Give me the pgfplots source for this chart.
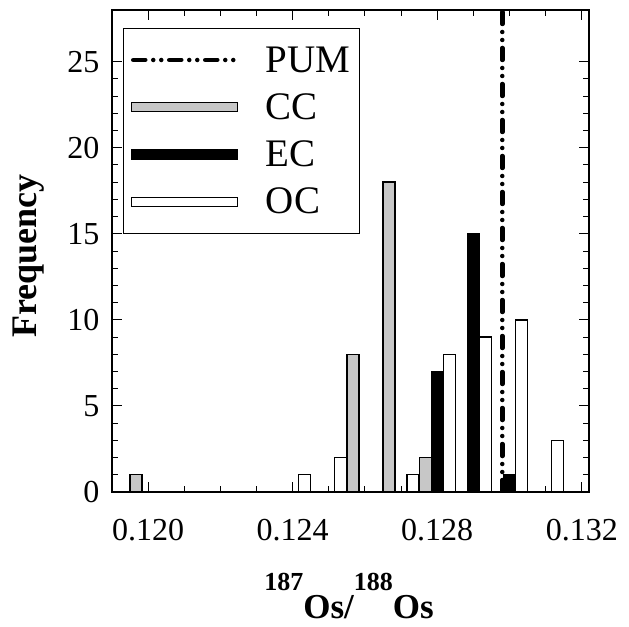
\documentclass[border=0pt]{standalone}
\usepackage{pgfplots}
\pgfplotsset{compat=1.18}
\usepackage{fontspec}
\setmainfont{Liberation Serif}
\definecolor{ccgray}{gray}{0.78}
\begin{document}
\begin{tikzpicture}
\begin{axis}[
  scale only axis, width=477bp, height=482bp,
  xmin=0.119, xmax=0.1322, ymin=0, ymax=28,
  scaled x ticks=false,
  xtick={0.120,0.124,0.128,0.132},
  xticklabels={0.120,0.124,0.128,0.132},
  minor x tick num=3,
  ytick={0,5,10,15,20,25},
  minor y tick num=4,
  tick align=inside,
  major tick length=10bp, minor tick length=6bp,
  every tick/.style={black, line width=1pt},
  axis line style={line width=1.4pt},
  tick label style={font=\fontsize{32bp}{38bp}\selectfont},
  /pgf/number format/assume math mode=true,
  xticklabel style={yshift=-24bp},
  yticklabel style={xshift=-9bp},
  ylabel={\fontsize{36bp}{43bp}\selectfont\bfseries Frequency},
  ylabel style={at={(axis description cs:-0.174,0.49)}, anchor=center},
  xlabel={\fontsize{35bp}{42bp}\selectfont\bfseries\raisebox{28bp}{\fontsize{26bp}{30bp}\selectfont 187}Os/\raisebox{28bp}{\fontsize{26bp}{30bp}\selectfont 188}Os},
  xlabel style={at={(axis description cs:0.497,-0.263)}, anchor=base},
  legend cell align=left,
  legend style={at={(rel axis cs:0.023,0.963)}, anchor=north west, draw=black, line width=1.3pt, fill=white,
    font=\fontsize{39bp}{47bp}\selectfont, inner xsep=7bp, inner ysep=16bp, row sep=16bp, column sep=26bp,
    nodes={inner sep=2bp}},
]
\addplot[black, line width=4.5bp, line cap=round,
  dash pattern=on 12bp off 8bp on 0bp off 8bp on 0bp off 8bp,
  legend image code/.code={\draw[black, line width=4.5bp, line cap=round, dash pattern=on 12bp off 8bp on 0bp off 8bp on 0bp off 8bp] (2bp,0bp) -- (104bp,0bp);}]
  coordinates {(0.1298,0) (0.1298,28)};
\addlegendentry{PUM\hspace{17bp}}
\addplot[ybar, bar width=0.000333, bar shift=0pt, fill=ccgray, draw=black, line width=1.3pt,
  legend image code/.code={\draw[fill=ccgray, draw=black, line width=1.3pt] (0bp,-4.5bp) rectangle (106bp,4.5bp);}]
  coordinates {(0.119667,1) (0.125667,8) (0.126667,18) (0.127667,2)};
\addlegendentry{CC}
\addplot[ybar, bar width=0.000333, bar shift=0pt, fill=black, draw=black, line width=1.3pt,
  legend image code/.code={\draw[fill=black, draw=black, line width=1.3pt] (0bp,-5bp) rectangle (106bp,5bp);}]
  coordinates {(0.128,7) (0.129,15) (0.130,1)};
\addlegendentry{EC}
\addplot[ybar, bar width=0.000333, bar shift=0pt, fill=white, draw=black, line width=1.3pt,
  legend image code/.code={\draw[fill=white, draw=black, line width=1.3pt] (0bp,-4.5bp) rectangle (106bp,4.5bp);}]
  coordinates {(0.124333,1) (0.125333,2) (0.127333,1) (0.128333,8) (0.129333,9) (0.130333,10) (0.131333,3)};
\addlegendentry{OC}
\end{axis}
\pgfresetboundingbox
\path ([xshift=-112bp,yshift=-135bp]current axis.south west) rectangle ([xshift=40bp,yshift=10bp]current axis.north east);
\end{tikzpicture}
\end{document}
